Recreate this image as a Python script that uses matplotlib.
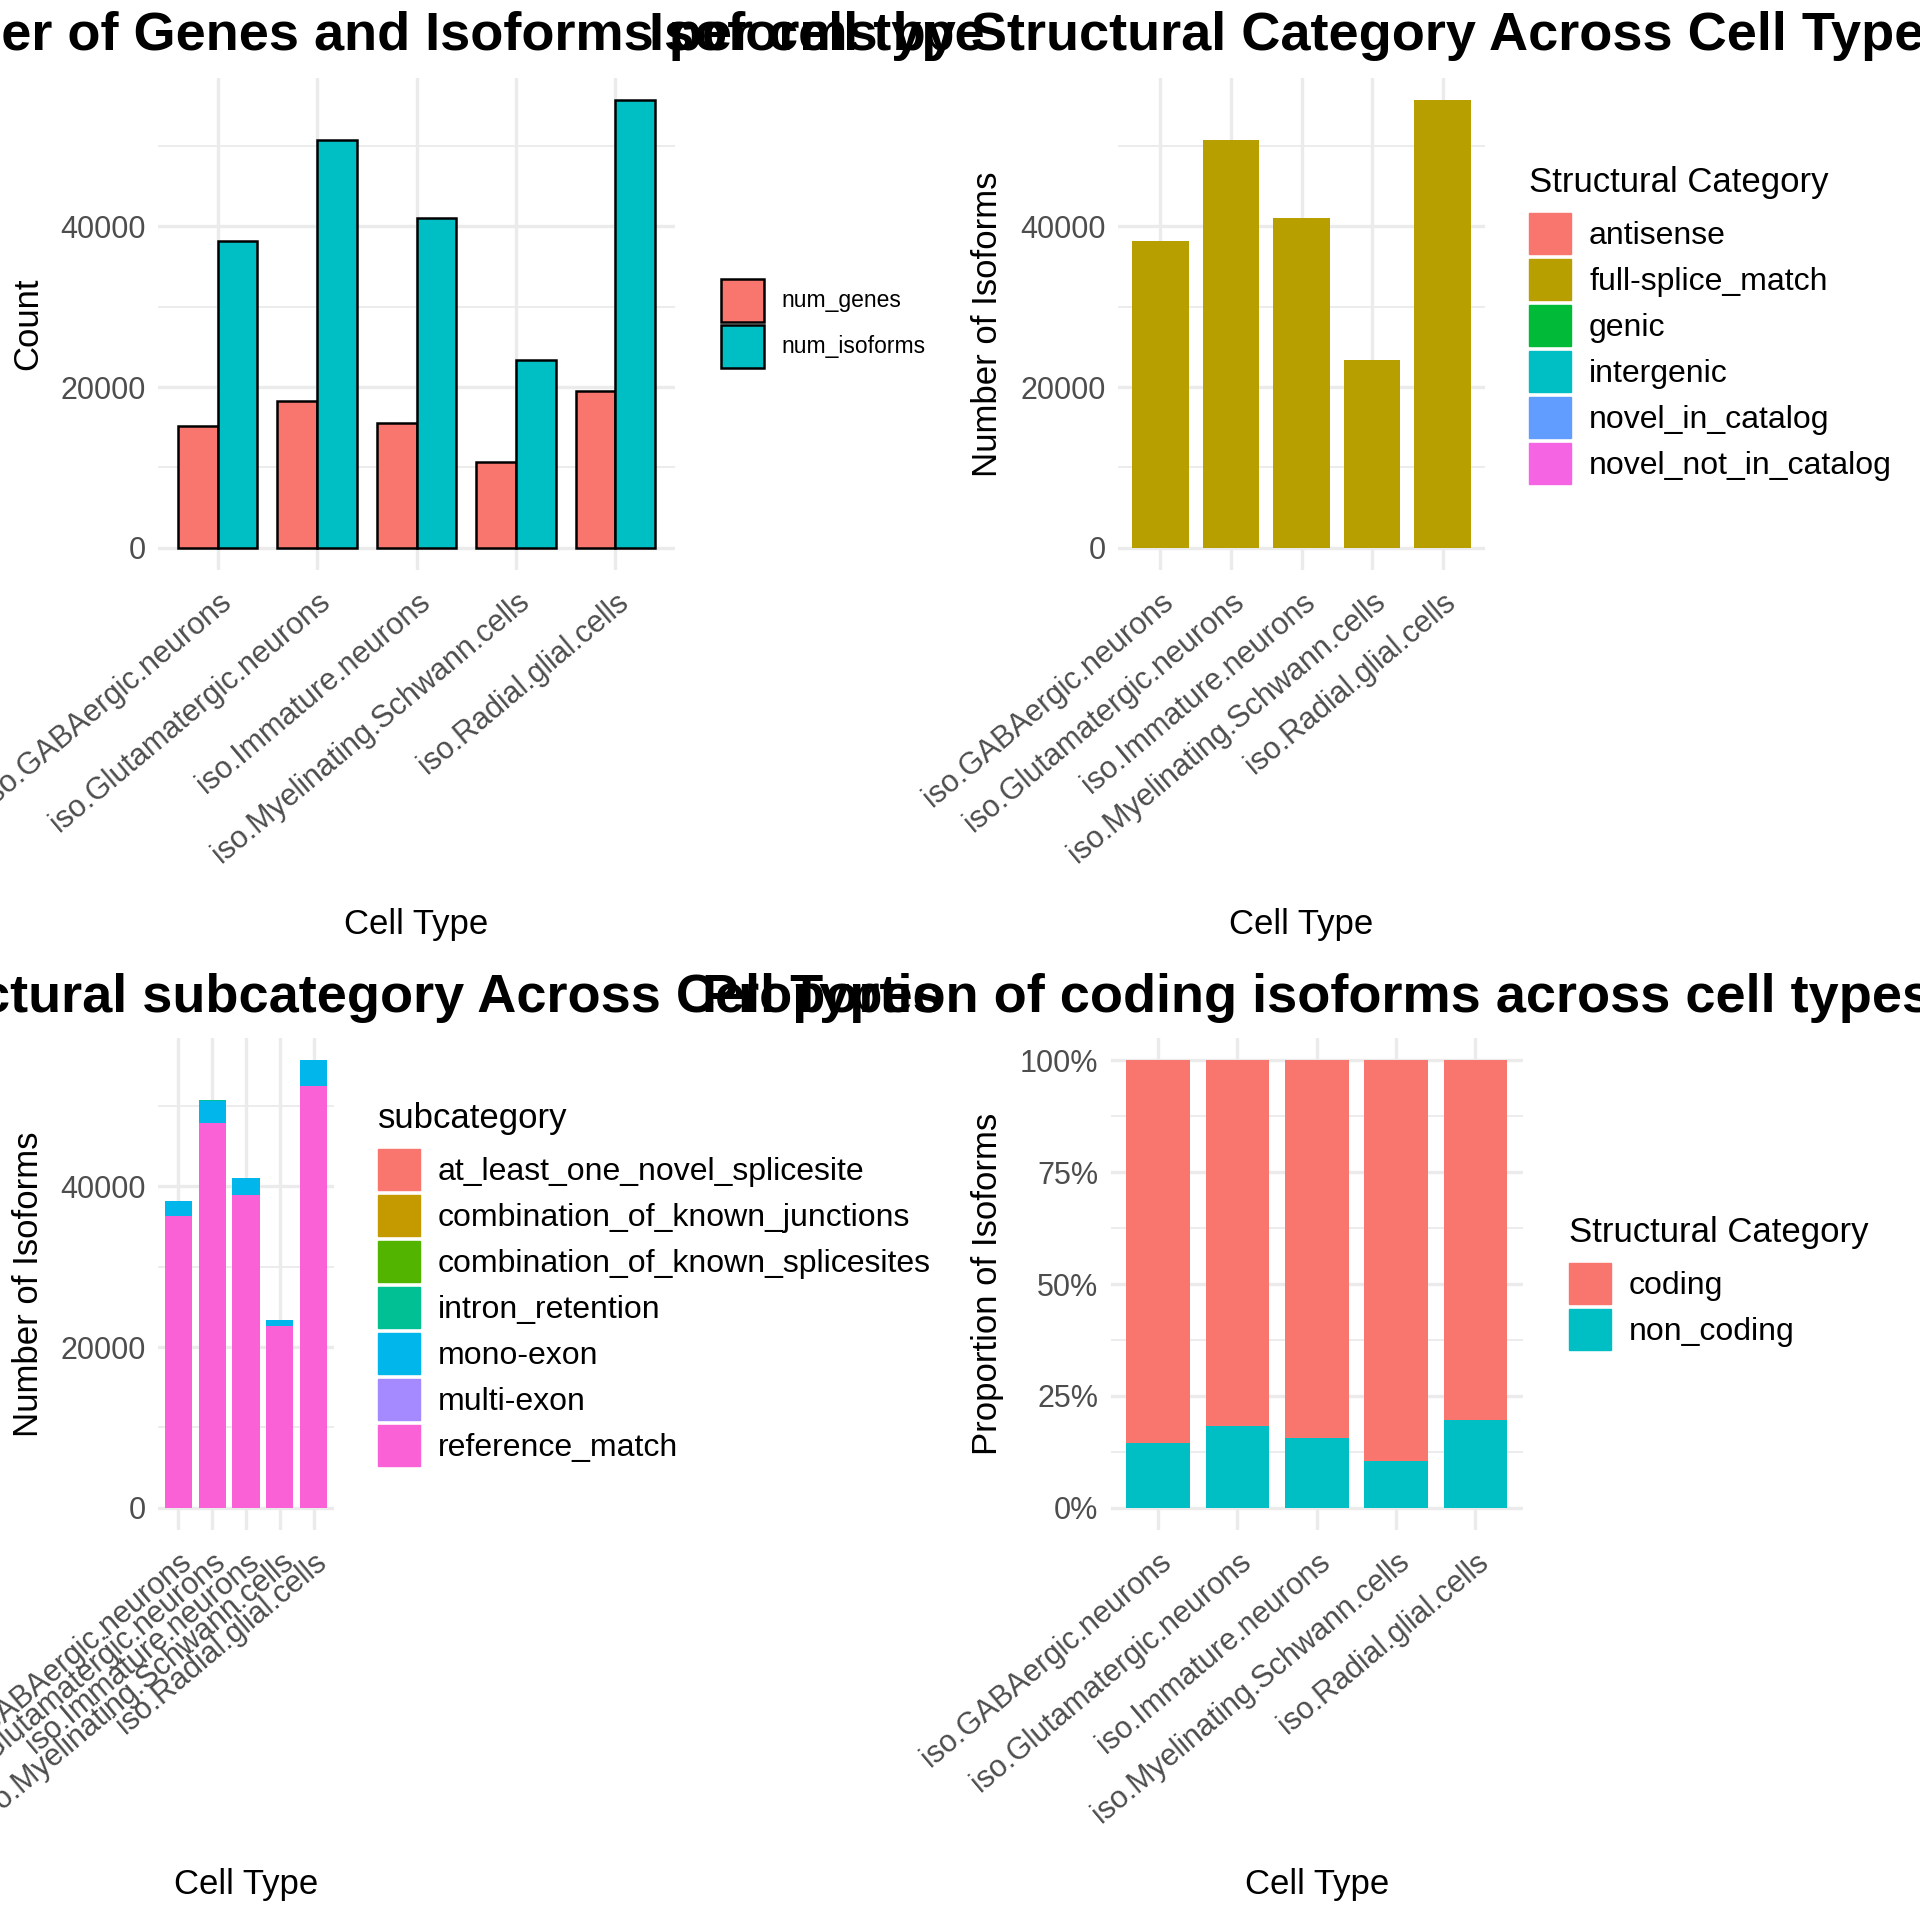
import matplotlib.pyplot as plt
from matplotlib.patches import Patch

plt.rcParams['font.family'] = ['Liberation Sans', 'DejaVu Sans']

# data
cell_types = ['iso.GABAergic.neurons', 'iso.Glutamatergic.neurons',
              'iso.Immature.neurons', 'iso.Myelinating.Schwann.cells',
              'iso.Radial.glial.cells']
num_genes = [15190, 18290, 15480, 10620, 19570]
num_isoforms = [38190, 50760, 41050, 23430, 55710]

struct_cats = ['antisense', 'full-splice_match', 'genic', 'intergenic',
               'novel_in_catalog', 'novel_not_in_catalog']
struct_counts = {
    'antisense': [0, 0, 0, 0, 0],
    'full-splice_match': [38190, 50760, 41050, 23430, 55710],
    'genic': [0, 0, 0, 0, 0],
    'intergenic': [0, 0, 0, 0, 0],
    'novel_in_catalog': [0, 0, 0, 0, 0],
    'novel_not_in_catalog': [0, 0, 0, 0, 0],
}
struct_colors = ['#F8766D', '#B79F00', '#00BA38', '#00BFC4', '#619CFF', '#F564E3']

subcats = ['at_least_one_novel_splicesite', 'combination_of_known_junctions',
           'combination_of_known_splicesites', 'intron_retention', 'mono-exon',
           'multi-exon', 'reference_match']
subcat_counts = {
    'at_least_one_novel_splicesite': [0, 0, 0, 0, 0],
    'combination_of_known_junctions': [0, 0, 0, 0, 0],
    'combination_of_known_splicesites': [0, 0, 0, 0, 0],
    'intron_retention': [0, 150, 0, 0, 0],
    'mono-exon': [1860, 2660, 2050, 860, 3140],
    'multi-exon': [0, 0, 0, 0, 0],
    'reference_match': [36330, 47950, 39000, 22570, 52570],
}
subcat_colors = ['#F8766D', '#C49A00', '#53B400', '#00C094', '#00B6EB', '#A58AFF', '#FB61D7']

coding_frac = [0.855, 0.817, 0.845, 0.895, 0.804]
noncoding_frac = [0.145, 0.183, 0.155, 0.105, 0.196]
coding_colors = ['#F8766D', '#00BFC4']

GRID = '#EBEBEB'
TICK = '#4D4D4D'
W = 1920.0

fig = plt.figure(figsize=(19.2, 19.2), dpi=100)


def panel(l, t, r, b):
    return fig.add_axes([l / W, 1 - b / W, (r - l) / W, (b - t) / W])


def style(ax, yticks, yminor, ylabels=None):
    for s in ax.spines.values():
        s.set_visible(False)
    x = list(range(1, len(cell_types) + 1))
    ax.set_xticks(x)
    ax.set_xticklabels(cell_types, rotation=40, ha='right', va='top',
                       rotation_mode='anchor')
    ax.set_xlim(0.4, len(cell_types) + 0.6)
    ax.set_yticks(yticks)
    if ylabels is not None:
        ax.set_yticklabels(ylabels)
    ax.set_yticks(yminor, minor=True)
    ax.tick_params(which='both', length=0, labelsize=22, labelcolor=TICK)
    ax.tick_params(axis='x', pad=12)
    ax.tick_params(axis='y', pad=9)
    ax.set_axisbelow(True)
    ax.grid(which='major', color=GRID, lw=2.4)
    ax.grid(which='minor', axis='y', color=GRID, lw=1.3)
    return x


def labels(ax, title, ylabel, title_y, ylab_x):
    ax.set_title(title, fontsize=39, fontweight='bold', y=title_y, va='center', pad=0)
    ax.set_xlabel('Cell Type', fontsize=25, labelpad=28)
    ax.set_ylabel(ylabel, fontsize=25)
    ax.yaxis.label.set_va('center')
    pos = ax.get_position()
    ax.yaxis.set_label_coords(ylab_x / W, pos.y0 + pos.height / 2,
                              transform=fig.transFigure)


def legend(ax, handles, title, x, y):
    leg = ax.legend(handles=handles, title=title, title_fontsize=25, alignment='left',
                    loc='upper left', bbox_to_anchor=(x / W, 1 - y / W),
                    bbox_transform=fig.transFigure, frameon=False, fontsize=23,
                    borderpad=0, borderaxespad=0, handlelength=1.32, handleheight=1.62,
                    labelspacing=0.14, handletextpad=0.56)
    leg._legend_box.sep = 10
    return leg


count_top = max(num_isoforms)
count_lim = (-0.05 * count_top, count_top * 1.05)
count_ticks = [0, 20000, 40000]
count_minor = [10000, 30000, 50000]

# --- top left: genes and isoforms
ax1 = panel(158, 78, 675, 570)
x = style(ax1, count_ticks, count_minor)
ax1.set_ylim(*count_lim)
ax1.bar([i - 0.2 for i in x], num_genes, width=0.4, color='#F8766D',
        edgecolor='black', lw=1.8, label='num_genes')
ax1.bar([i + 0.2 for i in x], num_isoforms, width=0.4, color='#00BFC4',
        edgecolor='black', lw=1.8, label='num_isoforms')
labels(ax1, 'Number of Genes and Isoforms per cell type', 'Count', 1.0854, 28)
ax1.legend(loc='upper left', bbox_to_anchor=(721 / W, 1 - 279 / W),
           bbox_transform=fig.transFigure, frameon=False, fontsize=16.5,
           borderpad=0, borderaxespad=0, handlelength=1.88, handleheight=2.51,
           labelspacing=0.13, handletextpad=0.74)

# --- top right: structural category
ax2 = panel(1118, 78, 1485, 570)
x = style(ax2, count_ticks, count_minor)
ax2.set_ylim(*count_lim)
bottom = [0] * len(x)
for cat, col in zip(struct_cats, struct_colors):
    vals = struct_counts[cat]
    ax2.bar(x, vals, width=0.8, bottom=bottom, color=col)
    bottom = [b + v for b, v in zip(bottom, vals)]
labels(ax2, 'Isoforms by Structural Category Across Cell Types',
       'Number of Isoforms', 1.0854, 988)
legend(ax2, [Patch(color=c, label=k) for k, c in zip(struct_cats, struct_colors)],
       'Structural Category', 1529, 166)

# --- bottom left: subcategory
ax3 = panel(158, 1038, 334, 1530)
x = style(ax3, count_ticks, count_minor)
ax3.set_ylim(*count_lim)
bottom = [0] * len(x)
for cat, col in zip(subcats[::-1], subcat_colors[::-1]):
    vals = subcat_counts[cat]
    ax3.bar(x, vals, width=0.8, bottom=bottom, color=col)
    bottom = [b + v for b, v in zip(bottom, vals)]
labels(ax3, 'Isoforms by Structural subcategory Across Cell Types',
       'Number of Isoforms', 1.0813, 29)
legend(ax3, [Patch(color=c, label=k) for k, c in zip(subcats, subcat_colors)],
       'subcategory', 378, 1102)

# --- bottom right: coding proportion
ax4 = panel(1110.6, 1038, 1523, 1530)
x = style(ax4, [0, 0.25, 0.5, 0.75, 1.0], [0.125, 0.375, 0.625, 0.875],
          ['0%', '25%', '50%', '75%', '100%'])
ax4.set_ylim(-0.05, 1.05)
ax4.bar(x, noncoding_frac, width=0.8, color=coding_colors[1])
ax4.bar(x, coding_frac, width=0.8, bottom=noncoding_frac, color=coding_colors[0])
labels(ax4, 'Proportion of coding isoforms across cell types',
       'Proportion of Isoforms', 1.0813, 988)
legend(ax4, [Patch(color=c, label=k) for k, c in zip(['coding', 'non_coding'], coding_colors)],
       'Structural Category', 1569, 1216)

fig.savefig('out.png', dpi=100)
